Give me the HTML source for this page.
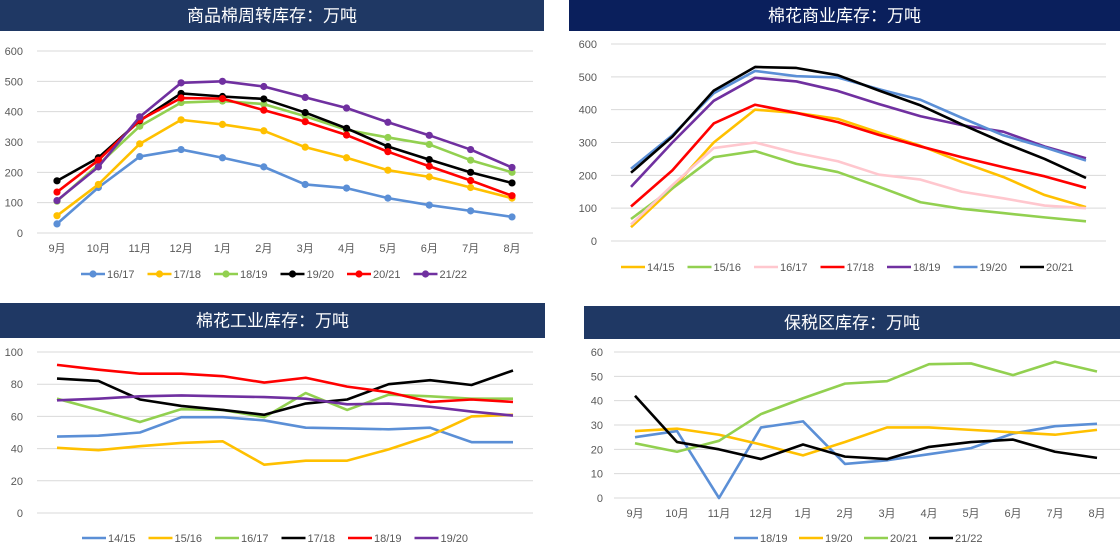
<!DOCTYPE html><html><head><meta charset="utf-8"><style>
html,body{margin:0;padding:0;background:#fff;width:1120px;height:552px;overflow:hidden}
svg{display:block}
text{font-family:"Liberation Sans","Noto Sans CJK SC",sans-serif}
</style></head><body>
<svg id="s" width="1120" height="552" xmlns="http://www.w3.org/2000/svg"></svg>
<script>
const S=document.getElementById('s');let h='';
const C={blue:'#5b8fd6',yel:'#ffc000',grn:'#92d050',blk:'#000',red:'#ff0000',pur:'#7030a0',pink:'#ffc7ce'};
function chart(o){
 h+=`<rect x="${o.hx0}" y="${o.hy0}" width="${o.hx1-o.hx0}" height="${o.hy1-o.hy0}" fill="${o.hc||'#1f3864'}"/>`;
 h+=`<text x="${(o.hx0+o.hx1)/2}" y="${(o.hy0+o.hy1)/2+6}" fill="#fff" font-size="17" text-anchor="middle">${o.title}</text>`;
 const Y=v=>o.y0+(o.y1-o.y0)*v/o.max;
 for(let v=0;v<=o.max;v+=o.step){const y=Y(v);
  h+=`<line x1="${o.gx0}" x2="${o.gx1}" y1="${y}" y2="${y}" stroke="#d9d9d9" stroke-width="1"/>`;
  h+=`<text x="${o.lx}" y="${y+4}" font-size="11" fill="#595959" text-anchor="end">${v}</text>`;}
 const n=12,dx=(o.px1-o.px0)/(n-1);
 if(o.xl){const m=['9月','10月','11月','12月','1月','2月','3月','4月','5月','6月','7月','8月'];
  m.forEach((t,i)=>h+=`<text x="${o.px0+i*dx}" y="${o.xly}" font-size="11" fill="#595959" text-anchor="middle">${t}</text>`);}
 o.ser.forEach((s,k)=>{const pts=s[2].map((v,i)=>[o.px0+i*dx,Y(v)]);
  h+=`<polyline points="${pts.map(p=>p.join(',')).join(' ')}" fill="none" stroke="${s[1]}" stroke-width="2.6" stroke-linejoin="round"/>`;
  if(o.mk)pts.forEach(p=>h+=`<circle cx="${p[0]}" cy="${p[1]}" r="3.6" fill="${s[1]}"/>`);
  const lx=o.lgx+k*o.lgs;
  h+=`<line x1="${lx}" x2="${lx+24}" y1="${o.lgy}" y2="${o.lgy}" stroke="${s[1]}" stroke-width="2.6"/>`;
  if(o.mk)h+=`<circle cx="${lx+12}" cy="${o.lgy}" r="3.6" fill="${s[1]}"/>`;
  h+=`<text x="${lx+26}" y="${o.lgy+4}" font-size="11" fill="#595959">${s[0]}</text>`;});
}
chart({title:'商品棉周转库存：万吨',hx0:0,hx1:544,hy0:0,hy1:31,y0:233,y1:51,max:600,step:100,gx0:37,gx1:533,lx:23,px0:57,px1:512,xl:1,xly:252,mk:1,lgx:81,lgs:66.5,lgy:274,
ser:[['16/17',C.blue,[30,150,252,275,248,218,160,148,115,92,73,53]],
['17/18',C.yel,[57,160,294,373,358,337,283,248,207,185,150,115]],
['18/19',C.grn,[105,225,352,430,435,425,385,340,315,292,240,200]],
['19/20',C.blk,[172,248,370,460,450,442,397,345,285,242,200,165]],
['20/21',C.red,[135,240,372,445,443,405,367,323,268,220,173,123]],
['21/22',C.pur,[107,218,383,495,500,483,447,412,365,322,275,216]]]});
chart({title:'棉花商业库存：万吨',hc:'#0a1f5c',hx0:569,hx1:1120,hy0:0,hy1:31,y0:241,y1:44,max:600,step:100,gx0:611,gx1:1106,lx:597,px0:631,px1:1086,xl:0,mk:0,lgx:621,lgs:66.5,lgy:267,
ser:[['14/15',C.yel,[42,160,300,400,390,372,330,290,240,195,140,103]],
['15/16',C.grn,[67,160,255,274,235,210,165,118,98,85,72,60]],
['16/17',C.pink,[50,170,283,300,268,243,202,187,150,130,108,100]],
['17/18',C.red,[105,215,358,415,390,362,323,288,255,225,197,162]],
['18/19',C.pur,[165,300,427,497,486,457,417,380,353,333,288,252]],
['19/20',C.blue,[220,322,450,518,502,498,462,430,375,322,285,245]],
['20/21',C.blk,[208,318,458,530,527,505,458,413,355,300,250,192]]]});
chart({title:'棉花工业库存：万吨',hx0:0,hx1:545,hy0:303,hy1:338,y0:513,y1:352,max:100,step:20,gx0:37,gx1:533,lx:23,px0:57,px1:513,xl:0,mk:0,lgx:82,lgs:66.5,lgy:538,
ser:[['14/15',C.blue,[47.5,48,50,59.5,59.5,57.5,53,52.5,52,53,44,44]],
['15/16',C.yel,[40.5,39,41.5,43.5,44.5,30,32.5,32.5,39.5,48,60,61]],
['16/17',C.grn,[71,64,56.5,64.5,64,59.5,74.5,64,73.5,72.5,71,71]],
['17/18',C.blk,[83.5,82,70.5,66.5,64,61,68,70.5,80,82.5,79.5,88.5]],
['18/19',C.red,[92,89,86.5,86.5,85,81,84,78.5,75,69,70.5,69]],
['19/20',C.pur,[70,71,72.5,73,72.5,72,71,67.5,68,66,63,60.5]]]});
chart({title:'保税区库存：万吨',hx0:584,hx1:1120,hy0:306,hy1:339,y0:498,y1:352,max:60,step:10,gx0:614,gx1:1120,lx:603,px0:635,px1:1097,xl:1,xly:517,mk:0,lgx:734,lgs:65,lgy:538,
ser:[['18/19',C.blue,[25,27.5,0,29,31.5,14,15.5,18,20.5,26.5,29.5,30.5]],
['19/20',C.yel,[27.5,28.5,26,22,17.5,23,29,29,28,27,26,28]],
['20/21',C.grn,[22.5,19,23.5,34.5,41,47,48,55,55.3,50.5,56,52]],
['21/22',C.blk,[42,23,20,16,22,17,16,21,23,24,19,16.5]]]});
S.innerHTML=h;
</script>
</body></html>
